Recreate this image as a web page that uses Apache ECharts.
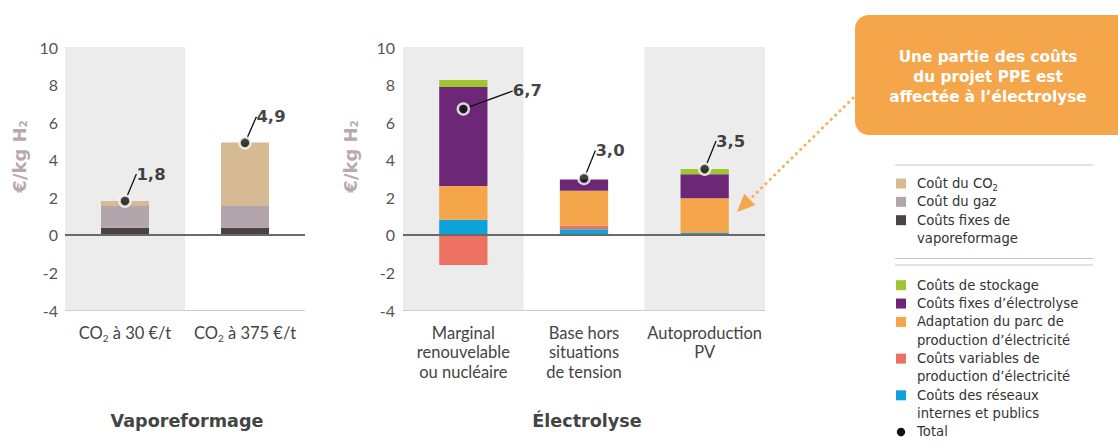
<!DOCTYPE html>
<html><head><meta charset="utf-8">
<script src="https://cdn.jsdelivr.net/npm/echarts@6/dist/echarts.min.js"></script>
<style>html,body{margin:0;padding:0;background:#fff}#c{width:1118px;height:446px}</style>
</head><body><div id="c"></div>
<script>
// ---------- DATA ----------
const vapoCategories = ['CO2 à 30 €/t', 'CO2 à 375 €/t'];
const vapoFixes = [0.38, 0.38];
const vapoGaz = [1.15, 1.15];
const vapoCO2 = [0.27, 3.38];
const vapoTotal = [1.8, 4.9];

const elecCategories = ['Marginal\nrenouvelable\nou nucléaire', 'Base hors\nsituations\nde tension', 'Autoproduction\nPV'];
const elecReseaux = [0.8, 0.3, 0.1];
const elecVariables = [-1.6, 0.2, 0];
const elecAdaptation = [1.8, 1.85, 1.85];
const elecFixes = [5.27, 0.6, 1.27];
const elecStockage = [0.38, 0, 0.28];
const elecTotal = [6.7, 3.0, 3.5];

const yMin = -4, yMax = 10, yStep = 2;
const yAxisName = '€/kg H2';
const groupTitles = ['Vaporeformage', 'Électrolyse'];
const calloutText = 'Une partie des coûts\ndu projet PPE est\naffectée à l’électrolyse';

const legendVapo = ['Coût du CO2', 'Coût du gaz', 'Coûts fixes de\nvaporeformage'];
const legendElec = ['Coûts de stockage', 'Coûts fixes d’électrolyse', 'Adaptation du parc de\nproduction d’électricité', 'Coûts variables de\nproduction d’électricité', 'Coûts des réseaux\ninternes et publics', 'Total'];

// ---------- STYLE ----------
const C = {
  co2: '#d5ba93', gaz: '#b3a5ac', fixVapo: '#4a4245',
  stock: '#a0c530', fixElec: '#6c2877', adapt: '#f5a64b', variab: '#ec7160', reseau: '#0ea3d9',
  total: '#111111'
};
const legendVapoColors = [C.co2, C.gaz, C.fixVapo];
const legendElecColors = [C.stock, C.fixElec, C.adapt, C.variab, C.reseau, C.total];
const labelOffsetsVapo = [[26, -27], [26, -26]];
const labelOffsetsElec = [[64, -18], [26, -28], [26, -28]];

const oneLine = s => s.replace('\n', ' ');
const subCO2 = s => s.replace('CO2', 'CO{s|2}').replace('H2', 'H{s|2}');
const fmtTotal = v => v.toFixed(1).replace('.', ',');

const grids = [
  {left: 65, top: 47, width: 240, height: 263},
  {left: 403, top: 47, width: 362, height: 263}
];

function xAxisFor(i, cats) {
  return {
    type: 'category', gridIndex: i, data: cats,
    axisLine: {show: false}, axisTick: {show: false, interval: 0},
    splitLine: {show: false},
    splitArea: {show: true, interval: 0, areaStyle: {color: ['#ececed', '#ffffff']}},
    axisLabel: {
      interval: 0, margin: 13, color: '#444', fontFamily: 'Lato', fontSize: 16.5, lineHeight: 19.5,
      formatter: v => subCO2(v),
      rich: {s: {fontSize: 10, lineHeight: 11, verticalAlign: 'bottom', fontFamily: 'Lato', color: '#444'}}
    }
  };
}
function yAxisFor(i, gap, margin) {
  return {
    type: 'value', gridIndex: i, min: yMin, max: yMax, interval: yStep,
    axisLine: {show: false}, axisTick: {show: false},
    splitLine: {lineStyle: {color: '#cdcdcd', width: 1}},
    axisLabel: {margin: margin, color: '#555', fontFamily: 'Lato', fontSize: 16},
    name: subCO2(yAxisName), nameLocation: 'middle', nameGap: gap, nameRotate: 90,
    nameTextStyle: {
      fontFamily: 'DejaVu Sans', fontWeight: 'bold', fontSize: 18, color: '#b7a9ad',
      padding: [0, 0, 0, 44],
      rich: {s: {fontSize: 10, fontWeight: 'bold', lineHeight: 12, verticalAlign: 'bottom', color: '#b7a9ad', fontFamily: 'DejaVu Sans'}}
    }
  };
}
function barSeries(name, data, color, i, extra) {
  return Object.assign({
    type: 'bar', name: name, data: data, stack: 'g' + i, xAxisIndex: i, yAxisIndex: i,
    barWidth: '40%', itemStyle: {color: color}, silent: true
  }, extra || {});
}
const zeroLine = {
  silent: true, symbol: 'none', label: {show: false},
  lineStyle: {color: '#6a6a6a', width: 2, type: 'solid'},
  data: [{yAxis: 0}]
};
function totalSeries(data, i, offsets) {
  return {
    type: 'scatter', name: 'Total', data: data, xAxisIndex: i, yAxisIndex: i, z: 10,
    symbol: 'circle', symbolSize: 11,
    itemStyle: {color: C.total, borderColor: '#fff', borderWidth: 2.5},
    label: {
      show: true, position: 'inside', formatter: p => fmtTotal(p.value),
      fontFamily: 'DejaVu Sans', fontWeight: 'bold', fontSize: 16.5, color: '#111'
    },
    labelLine: {show: true, lineStyle: {color: '#111', width: 1.3}},
    labelLayout: p => ({dx: offsets[p.dataIndex][0], dy: offsets[p.dataIndex][1]})
  };
}

// ---------- LEGEND (built from the legend arrays) ----------
function legendGraphics() {
  const els = [];
  const lh = 18.35, sx = 896, tx = 917;
  const lineStyle = {stroke: '#c6c6c6', lineWidth: 1.2};
  els.push({type: 'line', shape: {x1: 895, y1: 165, x2: 1093, y2: 165}, style: lineStyle});
  els.push({type: 'line', shape: {x1: 895, y1: 258.5, x2: 1093, y2: 258.5}, style: lineStyle});
  els.push({type: 'line', shape: {x1: 895, y1: 265, x2: 1093, y2: 265}, style: lineStyle});
  function block(items, colors, y0) {
    let y = y0;
    items.forEach((t, k) => {
      const n = t.split('\n').length;
      if (t === 'Total') {
        els.push({type: 'circle', shape: {cx: sx + 5, cy: y, r: 4.2}, style: {fill: colors[k]}});
      } else {
        els.push({type: 'rect', shape: {x: sx, y: y - 5, width: 10, height: 10}, style: {fill: colors[k]}});
      }
      els.push({type: 'text', x: tx, y: y - lh / 2, style: {
        text: subCO2(t), fill: '#333', fontFamily: 'DejaVu Sans', fontSize: 13.2,
        lineHeight: lh, verticalAlign: 'top', align: 'left',
        rich: {s: {fontSize: 8.5, lineHeight: 12, verticalAlign: 'bottom', fill: '#333', fontFamily: 'DejaVu Sans'}}
      }});
      y += n * lh;
    });
  }
  block(legendVapo, legendVapoColors, 183.5);
  block(legendElec, legendElecColors, 285.2);
  return els;
}

// callout + dotted arrow
function calloutGraphics() {
  const tip = [737, 212], start = [853, 98];
  const dx = tip[0] - start[0], dy = tip[1] - start[1];
  const L = Math.hypot(dx, dy), ux = dx / L, uy = dy / L;
  const hl = 18, hw = 8;
  const bx = tip[0] - ux * hl, by = tip[1] - uy * hl;
  const px = -uy, py = ux;
  return [
    {type: 'rect', shape: {x: 855, y: 15, width: 290, height: 120, r: 14}, style: {fill: '#f5a64b'}, z: 20},
    {type: 'text', x: 988, y: 77, z: 21, style: {
      text: calloutText, fill: '#fff', fontFamily: 'DejaVu Sans', fontWeight: 'bold', fontSize: 15.3,
      lineHeight: 20, align: 'center', verticalAlign: 'middle'}},
    {type: 'line', z: 20, shape: {x1: start[0], y1: start[1], x2: bx, y2: by},
      style: {stroke: '#f5b062', lineWidth: 3, lineDash: [0.1, 6], lineCap: 'round'}},
    {type: 'polygon', z: 20, shape: {points: [tip, [bx + px * hw, by + py * hw], [bx - px * hw, by - py * hw]]},
      style: {fill: '#f5a64b'}}
  ];
}

const chart = echarts.init(document.getElementById('c'), null, {renderer: 'svg', width: 1118, height: 446});
chart.setOption({
  animation: false,
  backgroundColor: '#ffffff',
  title: [
    {text: groupTitles[0], left: 187, top: 412, textAlign: 'center', padding: 0,
      textStyle: {fontFamily: 'DejaVu Sans', fontWeight: 'bold', fontSize: 17.6, color: '#444'}},
    {text: groupTitles[1], left: 587, top: 412, textAlign: 'center', padding: 0,
      textStyle: {fontFamily: 'DejaVu Sans', fontWeight: 'bold', fontSize: 17.6, color: '#444'}}
  ],
  grid: grids,
  xAxis: [xAxisFor(0, vapoCategories), xAxisFor(1, elecCategories)],
  yAxis: [yAxisFor(0, 37, 7), yAxisFor(1, 44, 8)],
  series: [
    barSeries(oneLine(legendVapo[2]), vapoFixes, C.fixVapo, 0, {markLine: zeroLine}),
    barSeries(legendVapo[1], vapoGaz, C.gaz, 0),
    barSeries(legendVapo[0], vapoCO2, C.co2, 0),
    totalSeries(vapoTotal, 0, labelOffsetsVapo),
    barSeries(oneLine(legendElec[4]), elecReseaux, C.reseau, 1, {markLine: zeroLine}),
    barSeries(oneLine(legendElec[3]), elecVariables, C.variab, 1),
    barSeries(oneLine(legendElec[2]), elecAdaptation, C.adapt, 1),
    barSeries(legendElec[1], elecFixes, C.fixElec, 1),
    barSeries(legendElec[0], elecStockage, C.stock, 1),
    totalSeries(elecTotal, 1, labelOffsetsElec)
  ],
  graphic: legendGraphics().concat(calloutGraphics())
});
</script></body></html>
